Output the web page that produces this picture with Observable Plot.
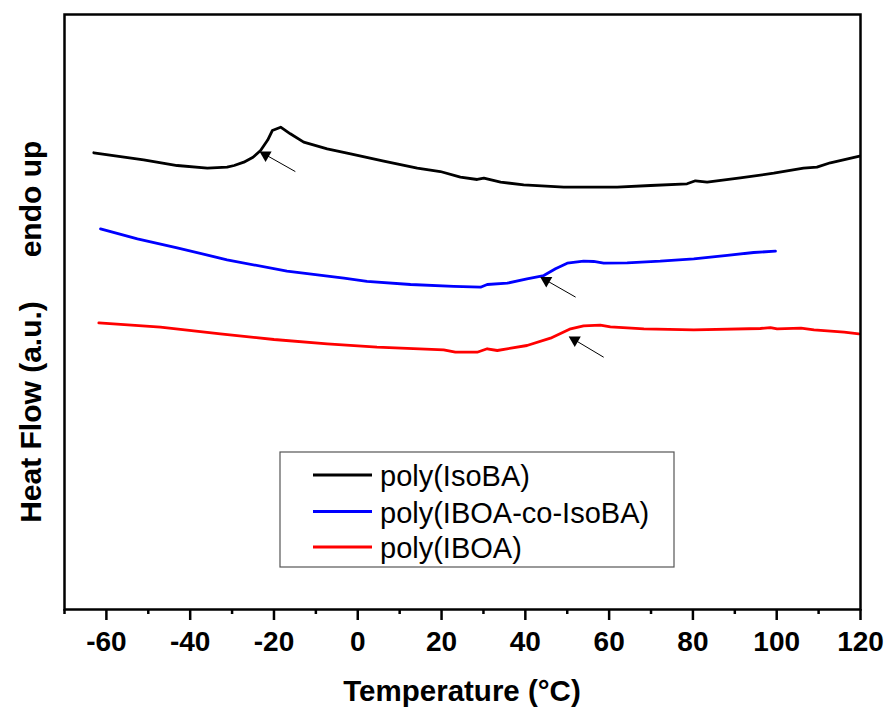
<!DOCTYPE html>
<html>
<head>
<meta charset="utf-8">
<script src="https://cdn.jsdelivr.net/npm/d3@7"></script>
<script src="https://cdn.jsdelivr.net/npm/@observablehq/plot@0.6"></script>
<style>
  html, body { margin: 0; padding: 0; background: #fff; }
  #chart { position: relative; width: 887px; height: 709px; }
</style>
</head>
<body>
<div id="chart"></div>
<script>
// ---- Data (heat flow in arbitrary units) ----
const seriesNames = ["poly(IsoBA)", "poly(IBOA-co-IsoBA)", "poly(IBOA)"];
const seriesColors = ["#000000", "#0000ff", "#ff0000"];

const isoBA_T = [-63, -51.1, -43.1, -35.9, -31.2, -29.5, -27.2, -25, -23.2, -21.5, -20.4, -18.4, -16.1, -12.9, -7.3, -1.7, 6.2, 14.2, 19.7, 24.5, 28.5, 30.1, 34.1, 39.6, 49.2, 61.9, 69.9, 78.6, 80.6, 83.4, 91.3, 99.3, 106.4, 109.6, 112.8, 119.8];
const isoBA_H = [76.76, 75.58, 74.62, 74.17, 74.34, 74.62, 75.18, 76.02, 77.14, 78.9, 80.50, 81.06, 79.95, 78.54, 77.43, 76.59, 75.34, 74.17, 73.61, 72.66, 72.27, 72.49, 71.82, 71.38, 70.98, 70.98, 71.26, 71.55, 72.05, 71.82, 72.55, 73.33, 74.17, 74.34, 75.08, 76.18];

const coT = [-61.4, -52.6, -43.1, -31.2, -16.9, -3.3, 2.2, 12.6, 22.9, 29.3, 30.9, 35.7, 40.4, 44.4, 47.2, 50.0, 53.9, 56.3, 58.7, 64.3, 72.2, 80.2, 88.2, 94.5, 99.7];
const coH = [63.98, 62.30, 60.79, 58.77, 56.86, 55.68, 55.13, 54.62, 54.29, 54.17, 54.62, 54.84, 55.58, 56.13, 57.26, 58.20, 58.54, 58.49, 58.20, 58.27, 58.54, 58.94, 59.50, 60.00, 60.22];

const iboa_T = [-61.8, -47.1, -32.8, -20.0, -7.3, 4.6, 20.5, 23.3, 28.5, 30.9, 33.3, 40.4, 46.0, 50.8, 53.9, 57.9, 60.3, 68.3, 80.2, 96.1, 98.5, 100.1, 105.8, 108.9, 116.1, 119.6];
const iboa_H = [48.18, 47.45, 46.34, 45.38, 44.66, 44.08, 43.65, 43.24, 43.24, 43.82, 43.53, 44.37, 45.60, 47.18, 47.68, 47.78, 47.51, 47.18, 47.01, 47.23, 47.39, 47.18, 47.28, 47.01, 46.61, 46.34];

// Arrow annotations (tail -> tip), data coordinates
const arrowTailT = [-14.9, 52.0, 58.7];
const arrowTailH = [73.6, 52.5, 42.4];
const arrowTipT = [-23.2, 43.8, 50.6];
const arrowTipH = [76.9, 55.8, 45.8];

// Axis ticks
const majorTicks = [-60, -40, -20, 0, 20, 40, 60, 80, 100, 120];
const minorTicks = [-70, -50, -30, -10, 10, 30, 50, 70, 90, 110];

// ---- Build tables ----
const rows = [];
[[isoBA_T, isoBA_H], [coT, coH], [iboa_T, iboa_H]].forEach(([T, H], s) => {
  T.forEach((t, i) => rows.push({series: seriesNames[s], T: t, H: H[i]}));
});
const arrows = arrowTailT.map((t, i) => ({x1: t, y1: arrowTailH[i], x2: arrowTipT[i], y2: arrowTipH[i]}));

const FONT = "'Liberation Sans', Arial, Helvetica, sans-serif";

const svg = Plot.plot({
  width: 887,
  height: 709,
  marginLeft: 64,
  marginRight: 27,
  marginTop: 14,
  marginBottom: 100,
  style: {fontFamily: FONT, background: "#fff", overflow: "visible"},
  x: {domain: [-70, 120]},
  y: {domain: [0, 100], axis: null},
  color: {domain: seriesNames, range: seriesColors},
  marks: [
    Plot.line(rows, {x: "T", y: "H", z: "series", stroke: "series", strokeWidth: 2.8, curve: "linear"}),
    Plot.link(arrows, {x1: "x1", y1: "y1", x2: "x2", y2: "y2", stroke: "#000", strokeWidth: 1}),
    Plot.dot(arrows, {x: "x2", y: "y2", symbol: "triangle", r: 4.5, fill: "#000", stroke: "none", rotate: -60, dx: 5, dy: 3}),
    Plot.axisX({ticks: minorTicks, tickSize: 5, text: null, label: null, strokeWidth: 2.5}),
    Plot.axisX({ticks: majorTicks, tickSize: 11, tickPadding: 11, label: null, strokeWidth: 2.5,
      fontSize: 28, fontWeight: "bold", tickFormat: d => String(d)}),
    Plot.frame({stroke: "#000", strokeWidth: 2.5})
  ]
});

const g = d3.select(svg);
// Axis titles
g.append("text").attr("x", 462).attr("y", 701).attr("text-anchor", "middle")
  .attr("font-family", FONT).attr("font-size", 29.5).attr("font-weight", "bold").attr("fill", "#000")
  .text("Temperature (°C)");
g.append("text").attr("transform", "translate(41,412) rotate(-90)").attr("text-anchor", "middle")
  .attr("font-family", FONT).attr("font-size", 30).attr("font-weight", "bold").attr("fill", "#000")
  .text("Heat Flow (a.u.)");
g.append("text").attr("transform", "translate(41,199) rotate(-90)").attr("text-anchor", "middle")
  .attr("font-family", FONT).attr("font-size", 30).attr("font-weight", "bold").attr("fill", "#000")
  .text("endo up");

// Legend
const lg = g.append("g");
lg.append("rect").attr("x", 280).attr("y", 452).attr("width", 394).attr("height", 115)
  .attr("fill", "#fff").attr("stroke", "#555").attr("stroke-width", 1.2);
const rowY = [475, 511.5, 547];
seriesNames.forEach((name, i) => {
  lg.append("line").attr("x1", 313).attr("x2", 372).attr("y1", rowY[i]).attr("y2", rowY[i])
    .attr("stroke", seriesColors[i]).attr("stroke-width", 3);
  lg.append("text").attr("x", 380).attr("y", rowY[i] + 11).attr("text-anchor", "start")
    .attr("font-family", FONT).attr("font-size", 29).attr("fill", "#000").text(name);
});

document.getElementById("chart").appendChild(svg);
</script>
</body>
</html>
